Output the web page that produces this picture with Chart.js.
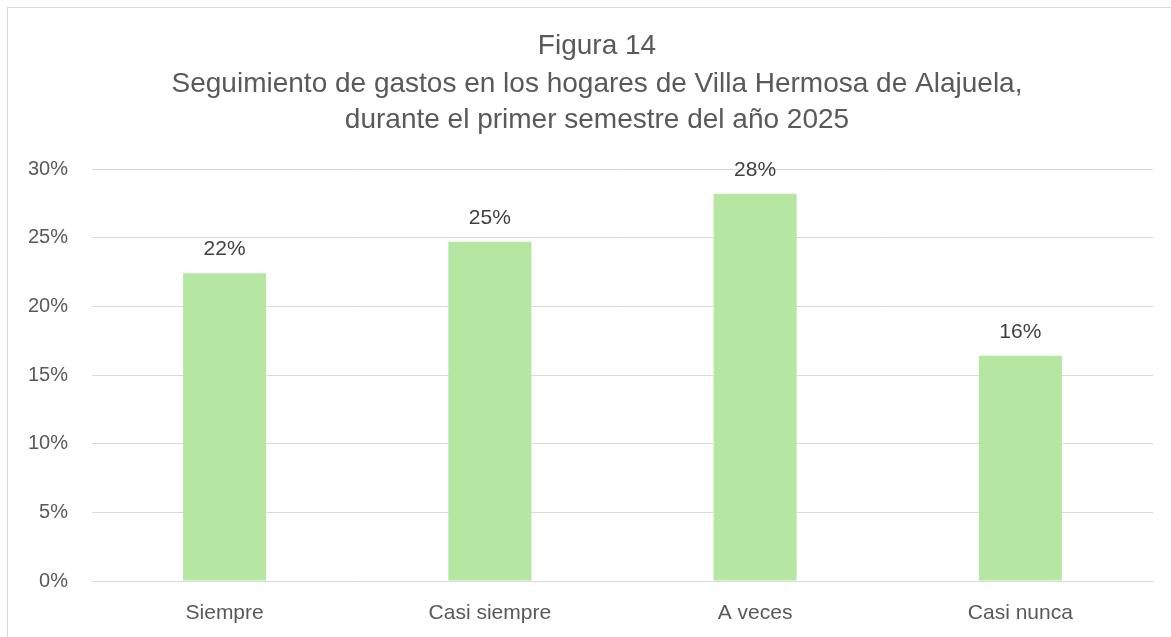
<!DOCTYPE html>
<html>
<head>
<meta charset="utf-8">
<script src="https://cdn.jsdelivr.net/npm/chart.js@4"></script>
<style>
  body { margin: 0; background: #fff; }
  #wrap { position: relative; width: 1171px; height: 637px; overflow: hidden; }
  #frame { position: absolute; left: 7px; top: 7px; width: 1200px; height: 700px; border: 1px solid #d9d9d9; box-sizing: border-box; }
  canvas { position: absolute; left: 0; top: 0; }
</style>
</head>
<body>
<div id="wrap">
  <div id="frame"></div>
  <canvas id="gastosChart" width="1171" height="637"></canvas>
</div>
<script>
// Data
const categories = ['Siempre', 'Casi siempre', 'A veces', 'Casi nunca'];
const percentages = [22.4, 24.7, 28.2, 16.4];
const valueLabels = ['22%', '25%', '28%', '16%'];
const titleLines = [
  'Figura 14',
  'Seguimiento de gastos en los hogares de Villa Hermosa de Alajuela,',
  'durante el primer semestre del año 2025'
];

const font = '"Liberation Sans", Arial, sans-serif';

// Draws the percentage above each bar
const barLabels = {
  id: 'barLabels',
  afterDatasetsDraw(chart) {
    const ctx = chart.ctx;
    const meta = chart.getDatasetMeta(0);
    ctx.save();
    ctx.font = '21px ' + font;
    ctx.fillStyle = '#404040';
    ctx.textAlign = 'center';
    ctx.textBaseline = 'alphabetic';
    meta.data.forEach((bar, i) => {
      ctx.fillText(valueLabels[i], bar.x, bar.y - 18);
    });
    ctx.restore();
  }
};

// Draws the centred title block
const titleBlock = {
  id: 'titleBlock',
  afterDraw(chart) {
    const ctx = chart.ctx;
    ctx.save();
    ctx.font = '28px ' + font;
    ctx.fillStyle = '#595959';
    ctx.textAlign = 'center';
    ctx.textBaseline = 'alphabetic';
    const baselines = [54, 92, 128];
    titleLines.forEach((line, i) => ctx.fillText(line, 597, baselines[i]));
    ctx.restore();
  }
};

new Chart(document.getElementById('gastosChart').getContext('2d'), {
  type: 'bar',
  data: {
    labels: categories,
    datasets: [{
      data: percentages,
      backgroundColor: '#b5e6a2',
      borderWidth: 0,
      categoryPercentage: 1,
      barPercentage: 0.313
    }]
  },
  options: {
    responsive: false,
    animation: false,
    layout: { padding: { top: 169, left: 8, right: 18, bottom: 0 } },
    plugins: { legend: { display: false }, tooltip: { enabled: false } },
    scales: {
      x: {
        grid: { display: false },
        border: { color: '#d9d9d9', width: 1 },
        ticks: { color: '#595959', font: { family: font, size: 21 }, padding: 12 },
        afterFit: (scale) => { scale.height = 56; }
      },
      y: {
        min: 0,
        max: 30,
        ticks: {
          stepSize: 5,
          color: '#595959',
          font: { family: font, size: 20 },
          padding: 24,
          callback: (v) => v + '%'
        },
        grid: { color: '#d9d9d9', lineWidth: 1, drawTicks: false },
        border: { display: false },
        afterFit: (scale) => { scale.width = 84; }
      }
    }
  },
  plugins: [barLabels, titleBlock]
});
</script>
</body>
</html>
